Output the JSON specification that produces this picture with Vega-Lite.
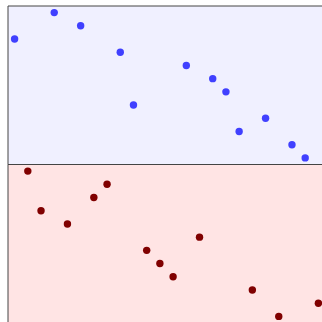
{
  "$schema": "https://vega.github.io/schema/vega-lite/v6.json",
  "padding": {"left": 7, "top": 5, "right": 0, "bottom": 0},
  "width": 317,
  "height": 317,
  "background": "white",
  "config": {"view": {"stroke": null}},
  "datasets": {
    "panels": [
      {"group": "top", "x0": -0.5, "x1": 23.5, "y0": -0.5, "y1": 11.5},
      {"group": "bottom", "x0": -0.5, "x1": 23.5, "y0": 11.5, "y1": 23.5}
    ],
    "points": [
      {"group": "top", "col": 0, "row": 2},
      {"group": "top", "col": 3, "row": 0},
      {"group": "top", "col": 5, "row": 1},
      {"group": "top", "col": 8, "row": 3},
      {"group": "top", "col": 9, "row": 7},
      {"group": "top", "col": 13, "row": 4},
      {"group": "top", "col": 15, "row": 5},
      {"group": "top", "col": 16, "row": 6},
      {"group": "top", "col": 17, "row": 9},
      {"group": "top", "col": 19, "row": 8},
      {"group": "top", "col": 21, "row": 10},
      {"group": "top", "col": 22, "row": 11},
      {"group": "bottom", "col": 1, "row": 12},
      {"group": "bottom", "col": 2, "row": 15},
      {"group": "bottom", "col": 4, "row": 16},
      {"group": "bottom", "col": 6, "row": 14},
      {"group": "bottom", "col": 7, "row": 13},
      {"group": "bottom", "col": 10, "row": 18},
      {"group": "bottom", "col": 11, "row": 19},
      {"group": "bottom", "col": 12, "row": 20},
      {"group": "bottom", "col": 14, "row": 17},
      {"group": "bottom", "col": 18, "row": 21},
      {"group": "bottom", "col": 20, "row": 23},
      {"group": "bottom", "col": 23, "row": 22}
    ]
  },
  "layer": [
    {
      "data": {"name": "panels"},
      "mark": {"type": "rect", "stroke": "#444", "strokeWidth": 1},
      "encoding": {
        "x": {"field": "x0", "type": "quantitative", "scale": {"domain": [-0.5, 23.5], "nice": false, "zero": false}, "axis": null},
        "x2": {"field": "x1"},
        "y": {"field": "y0", "type": "quantitative", "scale": {"domain": [23.5, -0.5], "nice": false, "zero": false}, "axis": null},
        "y2": {"field": "y1"},
        "fill": {"field": "group", "type": "nominal", "scale": {"domain": ["top", "bottom"], "range": ["#f0f0ff", "#ffe4e4"]}, "legend": null}
      }
    },
    {
      "data": {"name": "points"},
      "mark": {"type": "circle", "size": 55, "opacity": 1},
      "encoding": {
        "x": {"field": "col", "type": "quantitative"},
        "y": {"field": "row", "type": "quantitative"},
        "color": {"field": "group", "type": "nominal", "scale": {"domain": ["top", "bottom"], "range": ["#4040ff", "#800000"]}, "legend": null}
      }
    }
  ]
}
